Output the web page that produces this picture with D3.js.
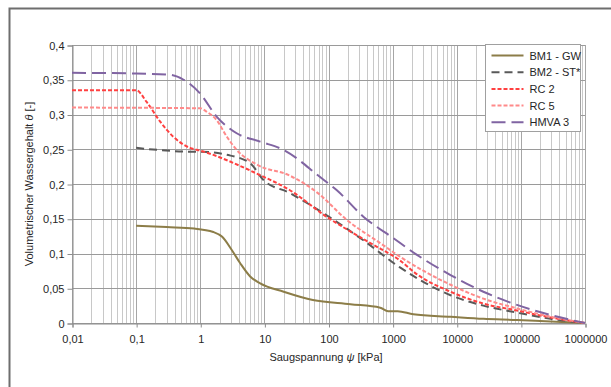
<!DOCTYPE html>
<html>
<head>
<meta charset="utf-8">
<script src="https://cdn.jsdelivr.net/npm/d3@7/dist/d3.min.js"></script>
<style>
  body { margin: 0; background: #fff; }
  svg { font-family: "Liberation Sans", Arial, sans-serif; }
</style>
</head>
<body>
<div id="chart"></div>
<script>
var w = 611;
var h = 387;

// Saugspannung psi [kPa] and water content theta [-] per curve
var bm1Psi   = [0.1, 0.3, 0.8, 1.6, 2.2, 3.1, 4.2, 6, 8.6, 20, 57, 220, 640, 850, 1200, 2100, 8000, 26000, 87000, 290000, 1000000];
var bm1Theta = [0.14, 0.138, 0.136, 0.131, 0.124, 0.105, 0.086, 0.067, 0.057, 0.045, 0.033, 0.027, 0.022, 0.017, 0.017, 0.0125, 0.009, 0.006, 0.0043, 0.002, 0];

var bm2Psi   = [0.1, 0.78, 1, 2.6, 6, 9.6, 25, 83, 350, 1300, 8000, 26000, 87000, 290000, 1000000];
var bm2Theta = [0.252, 0.2465, 0.2465, 0.242, 0.23, 0.206, 0.187, 0.158, 0.119, 0.08, 0.04, 0.025, 0.015, 0.006, 0];

var rc2Psi   = [0.01, 0.1, 0.146, 0.236, 0.38, 0.69, 1, 7.6, 25, 93, 450, 1300, 2400, 8000, 26000, 87000, 290000, 1000000];
var rc2Theta = [0.335, 0.335, 0.318, 0.29, 0.268, 0.252, 0.248, 0.215, 0.191, 0.153, 0.115, 0.09, 0.07, 0.045, 0.028, 0.018, 0.008, 0];

var rc5Psi   = [0.01, 1, 1.26, 1.8, 2.6, 3.7, 7.6, 25, 66, 195, 640, 1300, 8000, 26000, 87000, 290000, 1000000];
var rc5Theta = [0.31, 0.309, 0.304, 0.292, 0.268, 0.249, 0.228, 0.212, 0.188, 0.148, 0.115, 0.0955, 0.055, 0.035, 0.021, 0.009, 0];

var hmvaPsi   = [0.01, 0.1, 0.34, 0.55, 1.0, 1.8, 3.7, 8.6, 20, 74, 135, 350, 1030, 2400, 8000, 26000, 87000, 290000, 1000000];
var hmvaTheta = [0.36, 0.359, 0.357, 0.35, 0.33, 0.297, 0.273, 0.261, 0.249, 0.21, 0.191, 0.153, 0.122, 0.098, 0.069, 0.045, 0.026, 0.0115, 0];

var xTicks = [0.01, 0.1, 1, 10, 100, 1000, 10000, 100000, 1000000];
var xTickLabels = ["0,01", "0,1", "1", "10", "100", "1000", "10000", "100000", "1000000"];
var yTicks = [0, 0.05, 0.1, 0.15, 0.2, 0.25, 0.3, 0.35, 0.4];
var yTickLabels = ["0", "0,05", "0,1", "0,15", "0,2", "0,25", "0,3", "0,35", "0,4"];

var seriesNames = ["BM1 - GW", "BM2 - ST*", "RC 2", "RC 5", "HMVA 3"];

function pairs(px, th) {
  return px.map(function(p, i) { return [p, th[i]]; });
}

var series = [
  { name: seriesNames[0], data: pairs(bm1Psi, bm1Theta), color: "#8c7d48", dash: null, width: 2 },
  { name: seriesNames[1], data: pairs(bm2Psi, bm2Theta), color: "#595959", dash: "8,5", width: 2 },
  { name: seriesNames[2], data: pairs(rc2Psi, rc2Theta), color: "#ff4040", dash: "4,2", width: 2 },
  { name: seriesNames[3], data: pairs(rc5Psi, rc5Theta), color: "#ff8a8a", dash: "4,2", width: 2 },
  { name: seriesNames[4], data: pairs(hmvaPsi, hmvaTheta), color: "#8064a2", dash: "14,6", width: 2 }
];

var svg = d3.select("#chart").append("svg")
  .attr("width", w)
  .attr("height", h);

// chart area frame (extends past the window)
svg.append("rect")
  .attr("x", 9.5).attr("y", 8.5)
  .attr("width", 640).attr("height", 420)
  .attr("fill", "#fff")
  .attr("stroke", "#6e6e6e")
  .attr("stroke-width", 2);

var pLeft = 72, pRight = 585, pTop = 45, pBottom = 323;

var x = d3.scaleLog().domain([0.01, 1000000]).range([pLeft, pRight]);
var y = d3.scaleLinear().domain([0, 0.4]).range([pBottom, pTop]);

// minor vertical grid
var minor = [];
for (var e = -2; e < 6; e++) {
  for (var m = 2; m <= 9; m++) minor.push(m * Math.pow(10, e));
}
svg.append("g").selectAll("line.minor")
  .data(minor).enter().append("line")
  .attr("x1", function(d) { return Math.round(x(d)) + 0.5; })
  .attr("x2", function(d) { return Math.round(x(d)) + 0.5; })
  .attr("y1", pTop).attr("y2", pBottom)
  .attr("stroke", "#c8c8c8").attr("stroke-width", 1);

// major vertical grid
svg.append("g").selectAll("line.major")
  .data(xTicks).enter().append("line")
  .attr("x1", function(d) { return Math.round(x(d)) + 0.5; })
  .attr("x2", function(d) { return Math.round(x(d)) + 0.5; })
  .attr("y1", pTop).attr("y2", pBottom)
  .attr("stroke", "#a6a6a6").attr("stroke-width", 1);

// horizontal grid
svg.append("g").selectAll("line.hgrid")
  .data(yTicks).enter().append("line")
  .attr("x1", pLeft).attr("x2", pRight)
  .attr("y1", function(d) { return Math.round(y(d)) + 0.5; })
  .attr("y2", function(d) { return Math.round(y(d)) + 0.5; })
  .attr("stroke", "#9a9a9a").attr("stroke-width", 1);

// axes
var yAxis = d3.axisLeft(y).tickValues(yTicks)
  .tickFormat(function(d, i) { return yTickLabels[i]; })
  .tickSize(5).tickPadding(3);
var gy = svg.append("g").attr("transform", "translate(" + (pLeft + 0.5) + ",0.5)").call(yAxis);

var xAxis = d3.axisBottom(x).tickValues(xTicks)
  .tickFormat(function(d, i) { return xTickLabels[i]; })
  .tickSize(4).tickPadding(8);
var gx = svg.append("g").attr("transform", "translate(0.5," + (pBottom + 0.5) + ")").call(xAxis);

[gx, gy].forEach(function(g) {
  g.selectAll(".domain").attr("stroke", "#8c8c8c");
  g.selectAll(".tick line").attr("stroke", "#8c8c8c");
  g.selectAll("text").attr("fill", "#262626").style("font-size", "11px")
    .style("font-family", "'Liberation Sans', Arial, sans-serif");
});

// curves
var line = d3.line()
  .x(function(d) { return x(d[0]); })
  .y(function(d) { return y(d[1]); })
  .curve(d3.curveMonotoneX);

svg.append("g").selectAll("path.curve")
  .data(series).enter().append("path")
  .attr("d", function(d) { return line(d.data); })
  .attr("fill", "none")
  .attr("stroke", function(d) { return d.color; })
  .attr("stroke-width", function(d) { return d.width; })
  .attr("stroke-dasharray", function(d) { return d.dash; });

// axis titles
var yt = svg.append("text")
  .attr("transform", "translate(33," + ((pTop + pBottom) / 2) + ") rotate(-90)")
  .attr("text-anchor", "middle")
  .attr("fill", "#262626")
  .style("font-size", "11px");
yt.append("tspan").text("Volumetrischer Wassergehalt ");
yt.append("tspan").attr("font-style", "italic").text("θ");
yt.append("tspan").text(" [-]");

var xt = svg.append("text")
  .attr("x", 326).attr("y", 361)
  .attr("text-anchor", "middle")
  .attr("fill", "#262626")
  .style("font-size", "11px");
xt.append("tspan").text("Saugspannung ");
xt.append("tspan").attr("font-style", "italic").text("ψ");
xt.append("tspan").text(" [kPa]");

// legend
var lg = svg.append("g").attr("transform", "translate(485.5,44.5)");
lg.append("rect")
  .attr("width", 95).attr("height", 87)
  .attr("fill", "#fff").attr("stroke", "#a0a0a0");
var items = lg.selectAll("g.item").data(series).enter().append("g")
  .attr("transform", function(d, i) { return "translate(0," + (11 + i * 16.7) + ")"; });
items.append("line")
  .attr("x1", 6).attr("x2", 38)
  .attr("stroke", function(d) { return d.color; })
  .attr("stroke-width", 2)
  .attr("stroke-dasharray", function(d) { return d.dash; });
items.append("text")
  .attr("x", 44).attr("y", 4)
  .attr("fill", "#262626")
  .style("font-size", "11px")
  .text(function(d) { return d.name; });
</script>
</body>
</html>
